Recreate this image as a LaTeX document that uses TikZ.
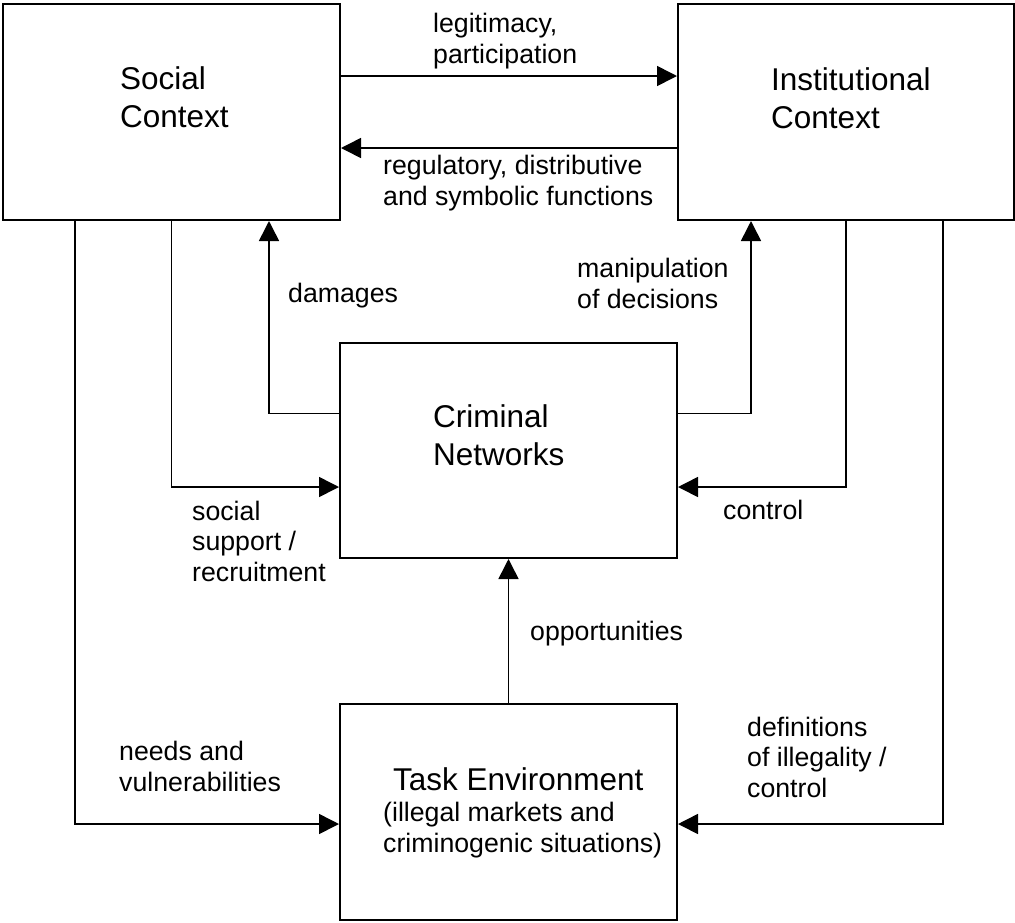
\documentclass[tikz,border=0pt]{standalone}
\usepackage{fontspec}
\setmainfont{Liberation Sans}
\usetikzlibrary{arrows.meta,positioning}

\begin{document}
\begin{tikzpicture}[
    x=1pt, y=-1pt,
    box/.style={draw, line width=2pt, minimum width=337pt, minimum height=216pt, inner sep=0pt},
    title/.style={anchor=base west, align=left, inner sep=0pt, font=\fontsize{31.5}{37.5}\selectfont},
    lbl/.style={anchor=base west, align=left, inner sep=0pt, font=\fontsize{26.7}{30.5}\selectfont},
    arr/.style={line width=1.6pt, -{Triangle[length=20pt, width=20pt]}}
]
    \useasboundingbox (0,0) rectangle (1015,922);
    % Boxes
    \node[box] (sc) at (171.5,112) {};
    \node[box, minimum width=336pt] (ic) at (846,112) {};
    \node[box, minimum height=215pt] (cn) at (508.5,450.5) {};
    \node[box] (te) at (508.5,812) {};
    % Titles (placed at the last baseline)
    \node[title] (sct) at (120,127) {Social\\Context};
    \node[title] (ict) at (771,128) {Institutional\\Context};
    \node[title] (cnt) at (433,465) {Criminal\\Networks};
    \node[title] (tet) at (393,790) {Task Environment};
    \node[lbl] (tes) at (383,852) {(illegal markets and\\criminogenic situations)};
    % Arrows
    \draw[arr] ([yshift=36pt]sc.east) -- ([yshift=36pt]ic.west);
    \draw[arr] ([yshift=-36pt]ic.west) -- ([yshift=-36pt]sc.east);
    \draw[arr] ([yshift=37pt]cn.west) -| ([xshift=97.5pt]sc.south);
    \draw[arr] ([yshift=37pt]cn.east) -| ([xshift=-95pt]ic.south);
    \draw[arr] (sc.south) |- ([yshift=-36.5pt]cn.west);
    \draw[arr] (ic.south) |- ([yshift=-36.5pt]cn.east);
    \draw[arr] ([xshift=-96.5pt]sc.south) |- ([yshift=-12pt]te.west);
    \draw[arr] ([xshift=97pt]ic.south) |- ([yshift=-12pt]te.east);
    \draw[arr] (te.north) -- (cn.south);
    % Labels
    \node[lbl] (l1) at (433,63) {legitimacy,\\participation};
    \node[lbl] (l2) at (383,205) {regulatory, distributive\\and symbolic functions};
    \node[lbl] (l3) at (288,302) {damages};
    \node[lbl] (l4) at (577,308) {manipulation\\of decisions};
    \node[lbl] (l5) at (192,581) {social\\support /\\recruitment};
    \node[lbl] (l6) at (723,519) {control};
    \node[lbl] (l7) at (530,640) {opportunities};
    \node[lbl] (l8) at (119,791) {needs and\\vulnerabilities};
    \node[lbl] (l9) at (747,797) {definitions\\of illegality /\\control};
\end{tikzpicture}
\end{document}
